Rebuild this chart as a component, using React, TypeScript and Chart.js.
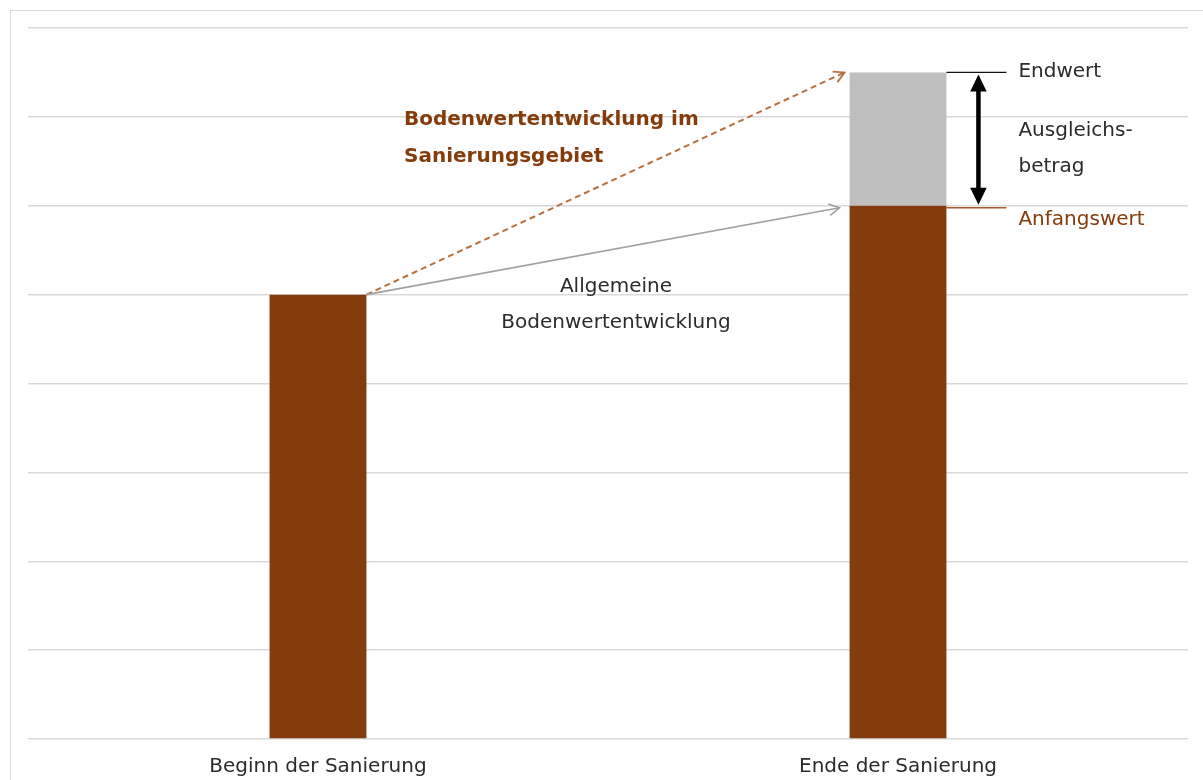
import React, { useEffect, useRef } from "react";
import { Chart, registerables } from "chart.js";

Chart.register(...registerables);

const categories = ["Beginn der Sanierung", "Ende der Sanierung"];
const anfangswerte = [5, 6];
const ausgleichsbetrag = [0, 1.5];
const yMax = 8;
const yStep = 1;

const BROWN = "#843C0C";
const GRAY = "#BFBFBF";
const TEXT = "#2b2b2b";
const FONT = "'DejaVu Sans', Verdana, sans-serif";

function arrowHead(ctx: CanvasRenderingContext2D, x1: number, y1: number, x2: number, y2: number, size: number, filled: boolean, spread: number) {
  const a = Math.atan2(y2 - y1, x2 - x1);
  ctx.beginPath();
  ctx.moveTo(x2 - size * Math.cos(a - spread), y2 - size * Math.sin(a - spread));
  ctx.lineTo(x2, y2);
  ctx.lineTo(x2 - size * Math.cos(a + spread), y2 - size * Math.sin(a + spread));
  if (filled) {
    ctx.closePath();
    ctx.fill();
  } else {
    ctx.stroke();
  }
}

const annotations = {
  id: "annotations",
  afterDatasetsDraw(chart: any) {
    const ctx: CanvasRenderingContext2D = chart.ctx;
    const xs = chart.scales.x;
    const ys = chart.scales.y;
    const meta = chart.getDatasetMeta(0);
    const bar0 = meta.data[0];
    const bar1 = meta.data[1];
    const half = bar0.width / 2;
    const b0Right = bar0.x + half;
    const b1Left = bar1.x - half;
    const b1Right = bar1.x + half;
    const yStart = ys.getPixelForValue(anfangswerte[0]);
    const yAnf = ys.getPixelForValue(anfangswerte[1]);
    const yEnd = ys.getPixelForValue(anfangswerte[1] + ausgleichsbetrag[1]);
    ctx.save();

    // dashed brown arrow (Sanierungsgebiet)
    ctx.strokeStyle = "#B86F3E";
    ctx.lineWidth = 2;
    ctx.setLineDash([6, 4]);
    ctx.beginPath();
    ctx.moveTo(b0Right, yStart);
    ctx.lineTo(b1Left - 5, yEnd);
    ctx.stroke();
    ctx.setLineDash([]);
    ctx.lineWidth = 1.8;
    arrowHead(ctx, b0Right, yStart, b1Left - 5, yEnd, 12, false, 0.5);

    // gray solid arrow (allgemeine)
    ctx.strokeStyle = "#A0A0A0";
    ctx.lineWidth = 1.6;
    ctx.beginPath();
    ctx.moveTo(b0Right, yStart);
    ctx.lineTo(b1Left - 10, yAnf + 2);
    ctx.stroke();
    arrowHead(ctx, b0Right, yStart, b1Left - 10, yAnf + 2, 12, false, 0.5);

    // Endwert line
    const lineEnd = b1Right + 60;
    ctx.strokeStyle = "#111";
    ctx.lineWidth = 1.3;
    ctx.beginPath();
    ctx.moveTo(b1Right, yEnd);
    ctx.lineTo(lineEnd, yEnd);
    ctx.stroke();
    // Anfangswert line
    ctx.strokeStyle = "#A8582A";
    ctx.beginPath();
    ctx.moveTo(b1Right, yAnf + 2);
    ctx.lineTo(lineEnd, yAnf + 2);
    ctx.stroke();

    // double arrow
    const ax = b1Right + 32;
    ctx.strokeStyle = "#000";
    ctx.fillStyle = "#000";
    ctx.lineWidth = 4.5;
    ctx.beginPath();
    ctx.moveTo(ax, yEnd + 14);
    ctx.lineTo(ax, yAnf - 14);
    ctx.stroke();
    arrowHead(ctx, ax, yAnf, ax, yEnd + 2, 19, true, 0.45);
    arrowHead(ctx, ax, yEnd, ax, yAnf - 1, 19, true, 0.45);

    // texts
    ctx.textBaseline = "middle";
    ctx.textAlign = "left";
    ctx.font = `20px ${FONT}`;
    const tx = lineEnd + 12;
    ctx.fillStyle = TEXT;
    ctx.fillText("Endwert", tx, yEnd - 1);
    ctx.fillText("Ausgleichs-", tx, 131);
    ctx.fillText("betrag", tx, 167);
    ctx.fillStyle = BROWN;
    ctx.fillText("Anfangswert", tx, yAnf + 14);

    ctx.fillStyle = TEXT;
    ctx.textAlign = "center";
    const midX = (xs.getPixelForValue(0) + xs.getPixelForValue(1)) / 2 + 8;
    ctx.fillText("Allgemeine", midX, 287);
    ctx.fillText("Bodenwertentwicklung", midX, 323);

    ctx.fillStyle = BROWN;
    ctx.textAlign = "left";
    ctx.font = `bold 20px ${FONT}`;
    ctx.fillText("Bodenwertentwicklung im", 404, 120);
    ctx.fillText("Sanierungsgebiet", 404, 157);

    ctx.restore();
  },
};

export default function App() {
  const ref = useRef<HTMLCanvasElement | null>(null);
  useEffect(() => {
    if (!ref.current) return;
    const chart = new Chart(ref.current, {
      type: "bar",
      data: {
        labels: categories,
        datasets: [
          { label: "Anfangswert", data: anfangswerte, backgroundColor: BROWN, barPercentage: 0.167, categoryPercentage: 1 },
          { label: "Ausgleichsbetrag", data: ausgleichsbetrag, backgroundColor: GRAY, barPercentage: 0.167, categoryPercentage: 1 },
        ],
      },
      options: {
        animation: false,
        responsive: true,
        maintainAspectRatio: false,
        layout: { padding: { left: 28, right: 15, top: 28, bottom: 0 } },
        plugins: { legend: { display: false }, tooltip: { enabled: false } },
        scales: {
          x: {
            stacked: true,
            grid: { display: false, drawTicks: false },
            border: { display: false },
            ticks: { color: TEXT, font: { family: FONT, size: 20 }, padding: 16 },
            afterFit: (scale: any) => {
              scale.height = 41;
            },
          },
          y: {
            stacked: true,
            min: 0,
            max: yMax,
            ticks: { display: false, stepSize: yStep },
            grid: { color: "#D9D9D9", lineWidth: 1.5, drawTicks: false },
            border: { display: false },
          },
        },
      },
      plugins: [annotations],
    });
    return () => chart.destroy();
  }, []);
  return (
    <div style={{ position: "absolute", left: 0, top: 0, width: 1203, height: 780, overflow: "hidden", background: "#fff" }}>
      <div style={{ position: "absolute", left: 10, top: 10, width: 1400, height: 1000, border: "1.5px solid #DCDCDC" }} />
      <div style={{ position: "absolute", left: 0, top: 0, width: 1203, height: 780 }}>
        <canvas ref={ref} />
      </div>
    </div>
  );
}
